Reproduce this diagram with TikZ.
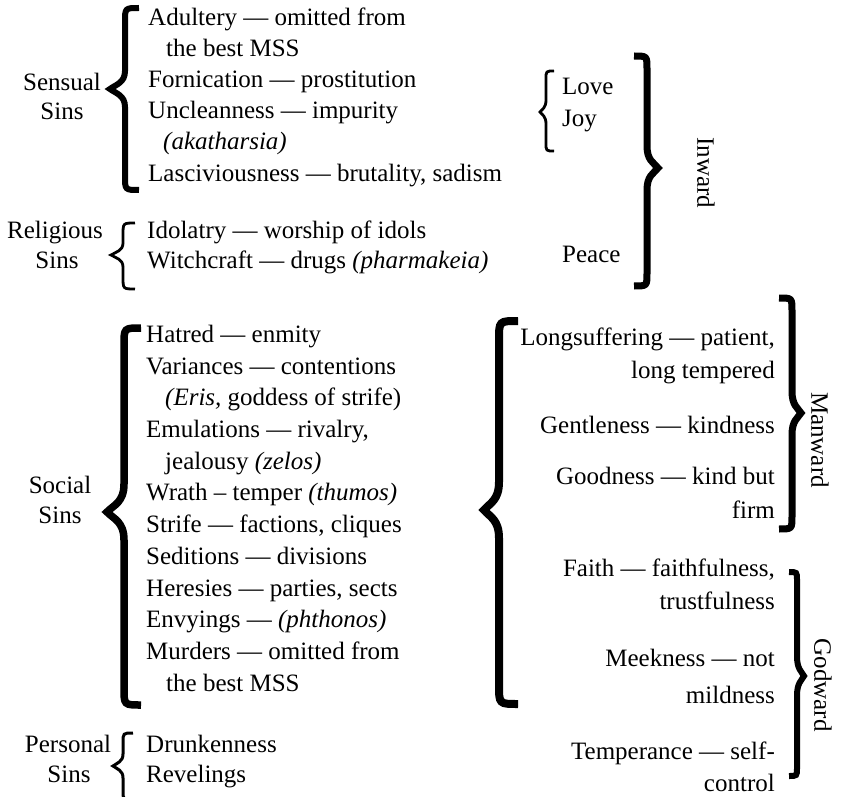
\documentclass[tikz,border=0pt]{standalone}
\usepackage{fontspec}
\setmainfont{Liberation Serif}
% #1 stem x, #2 tip x, #3 hook x, #4 top y, #5 tip y, #6 bottom y, #7 tip radius, #8 width
\newcommand\mybrc[8]{%
  \draw[line width=#8pt, line join=miter]
    (#3,#4) .. controls (#1,#4) .. (#1,{#4+abs(#3-#1)})
    -- (#1,{#5-#7})
    .. controls (#1,{#5-0.35*#7}) and ({#2+0.4*(#1-#2)},{#5-0.25*#7}) .. (#2,#5)
    .. controls ({#2+0.4*(#1-#2)},{#5+0.25*#7}) and (#1,{#5+0.35*#7}) .. (#1,{#5+#7})
    -- (#1,{#6-abs(#3-#1)})
    .. controls (#1,#6) .. (#3,#6);}
\begin{document}
\begin{tikzpicture}[x=1pt,y=-1pt,
  txt/.style={inner sep=0pt, font=\fontsize{25}{30}\selectfont},
  itl/.style={txt, anchor=base west},
  itr/.style={txt, anchor=base east},
  lbl/.style={txt, anchor=base},
  vlbl/.style={txt, anchor=center, rotate=-90}]
\useasboundingbox (0,0) rectangle (844,797);

% ---------- Sensual ----------
\node[lbl] (sen1) at (62,91) {Sensual};
\node[lbl] (sen2) at (62,120) {Sins};
\mybrc{125}{110}{139}{8}{89}{190}{18}{6}
\node[itl] (a1) at (148,26) {Adultery --- omitted from};
\node[itl] (a2) at (166,57) {the best MSS};
\node[itl] (a3) at (148,88) {Fornication --- prostitution};
\node[itl] (a4) at (148,119) {Uncleanness --- impurity};
\node[itl] (a5) at (163,150) {\itshape (akatharsia)};
\node[itl] (a6) at (148,182) {Lasciviousness --- brutality, sadism};

% ---------- Religious ----------
\node[lbl] (rel1) at (55,238) {Religious};
\node[lbl] (rel2) at (57,268) {Sins};
\mybrc{123}{111}{135}{223}{255}{289}{12}{2.8}
\node[itl] (b1) at (147,238) {Idolatry --- worship of idols};
\node[itl] (b2) at (147,268) {Witchcraft --- drugs \textit{(pharmakeia)}};

% ---------- Social ----------
\node[lbl] (soc1) at (60,493) {Social};
\node[lbl] (soc2) at (60,523) {Sins};
\mybrc{124}{107}{141}{328}{512}{705}{28}{7.5}
\node[itl] (c1) at (146,342) {Hatred --- enmity};
\node[itl] (c2) at (146,374) {Variances --- contentions};
\node[itl] (c3) at (165,405) {\textit{(Eris,} goddess of strife)};
\node[itl] (c4) at (146,437) {Emulations --- rivalry,};
\node[itl] (c5) at (165,469) {jealousy \textit{(zelos)}};
\node[itl] (c6) at (146,500) {Wrath -- temper \textit{(thumos)}};
\node[itl] (c7) at (146,532) {Strife --- factions, cliques};
\node[itl] (c8) at (146,564) {Seditions --- divisions};
\node[itl] (c9) at (146,596) {Heresies --- parties, sects};
\node[itl] (c10) at (146,627) {Envyings --- \textit{(phthonos)}};
\node[itl] (c11) at (146,659) {Murders --- omitted from};
\node[itl] (c12) at (166,691) {the best MSS};

% ---------- Personal ----------
\node[lbl] (per1) at (68,752) {Personal};
\node[lbl] (per2) at (69,782) {Sins};
\mybrc{123}{113}{133}{733}{766}{800}{12}{3}
\node[itl] (d1) at (146,752) {Drunkenness};
\node[itl] (d2) at (146,782) {Revelings};

% ---------- Inward ----------
\mybrc{546}{540}{554}{71}{112}{151}{12}{2.8}
\node[itl] (e1) at (562,95) {Love};
\node[itl] (e2) at (562,127) {Joy};
\node[itl] (e3) at (562,262) {Peace};
\mybrc{647}{658}{634}{56}{168}{286}{22}{7}
\node[vlbl] (inw) at (706,173) {Inward};

% ---------- big brace ----------
\mybrc{499}{484}{518}{321}{510}{704}{28}{8}

% ---------- Manward ----------
\node[itr] (f1) at (775,345) {Longsuffering --- patient,};
\node[itr] (f2) at (775,378) {long tempered};
\node[itr] (f3) at (775,433) {Gentleness --- kindness};
\node[itr] (f4) at (775,484) {Goodness --- kind but};
\node[itr] (f5) at (775,518) {firm};
\mybrc{792}{801}{779}{298}{413}{529}{22}{7}
\node[vlbl] (man) at (820,440) {Manward};

% ---------- Godward ----------
\node[itr] (g1) at (775,576) {Faith --- faithfulness,};
\node[itr] (g2) at (775,609) {trustfulness};
\node[itr] (g3) at (775,666) {Meekness --- not};
\node[itr] (g4) at (775,703) {mildness};
\node[itr] (g5) at (775,759) {Temperance --- self-};
\node[itr] (g6) at (775,791) {control};
\mybrc{797}{804}{789}{572}{676}{776}{20}{6}
\node[vlbl] (god) at (823,685) {Godward};
\end{tikzpicture}
\end{document}
